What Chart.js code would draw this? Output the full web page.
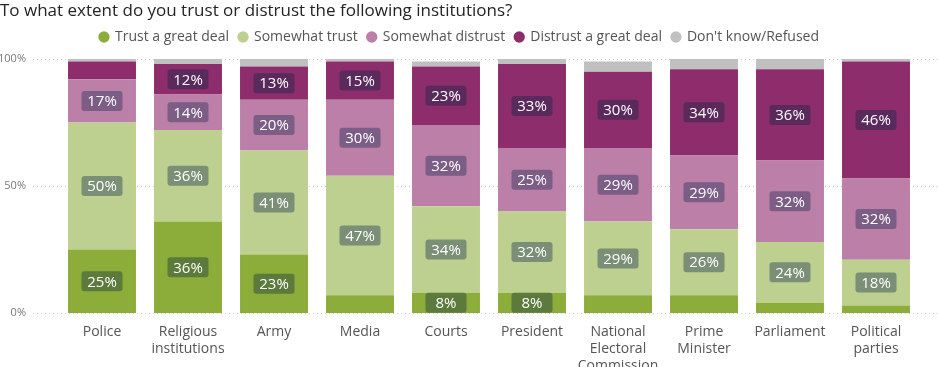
<!DOCTYPE html>
<html>
<head>
<meta charset="utf-8">
<script src="https://cdn.jsdelivr.net/npm/chart.js@4.4.0/dist/chart.umd.min.js"></script>
<style>
    html, body { margin: 0; padding: 0; background: #fff; }
    #wrap { width: 938px; height: 367px; position: relative; }
</style>
</head>
<body>
<div id="wrap"><canvas id="trust-chart"></canvas></div>
<script>
// start: Data
const institutions = [
    'Police',
    ['Religious', 'institutions'],
    'Army',
    'Media',
    'Courts',
    'President',
    ['National', 'Electoral', 'Commission'],
    ['Prime', 'Minister'],
    'Parliament',
    ['Political', 'parties'],
]
const trustGreatDeal    = [25, 36, 23,  7,  8,  8,  7,  7,  4,  3]
const somewhatTrust     = [50, 36, 41, 47, 34, 32, 29, 26, 24, 18]
const somewhatDistrust  = [17, 14, 20, 30, 32, 25, 29, 29, 32, 32]
const distrustGreatDeal = [ 7, 12, 13, 15, 23, 33, 30, 34, 36, 46]
const dontKnow          = [ 1,  2,  4,  1,  2,  3,  4,  4,  4,  1]
const yTicks = [0, 50, 100]
// end: Data

const font = "'Open Sans', 'Noto Sans', sans-serif"

// a bit of room between the legend and the plot
const legendGap = {
    id: 'legendGap',
    beforeLayout(chart) {
        const lg = chart.legend
        if (lg && !lg._gapAdded) {
            const fit = lg.fit
            lg.fit = function() {
                fit.call(this)
                this.height += 5
            }
            lg._gapAdded = true
        }
    }
}

// dotted grid lines running under the bars, wider than the plot area
const dottedGrid = {
    id: 'dottedGrid',
    beforeDatasetsDraw(chart) {
        const ctx = chart.ctx
        const y = chart.scales.y
        ctx.save()
        ctx.strokeStyle = '#c8c8c8'
        ctx.lineWidth = 1
        ctx.setLineDash([1, 3])
        yTicks.forEach(function(t) {
            const py = Math.round(y.getPixelForValue(t)) + 0.5
            ctx.beginPath()
            ctx.moveTo(33, py)
            ctx.lineTo(chart.width, py)
            ctx.stroke()
        })
        ctx.restore()
    }
}

// rounded value boxes in the middle of each segment
const valueBoxes = {
    id: 'valueBoxes',
    afterDatasetsDraw(chart) {
        const ctx = chart.ctx
        ctx.save()
        ctx.font = '15px ' + font
        ctx.textAlign = 'center'
        ctx.textBaseline = 'middle'
        chart.data.datasets.forEach(function(ds, i) {
            if (!ds.boxColor) return
            chart.getDatasetMeta(i).data.forEach(function(bar, j) {
                const v = ds.data[j]
                if (v < 8) return
                const cy = (bar.y + bar.base) / 2
                const w = 41, h = 20
                ctx.fillStyle = ds.boxColor
                ctx.beginPath()
                ctx.roundRect(bar.x - w / 2, cy - h / 2, w, h, 3)
                ctx.fill()
                ctx.fillStyle = '#ffffff'
                ctx.fillText(v + '%', bar.x, cy + 1)
            })
        })
        ctx.restore()
    }
}

const trustChart = new Chart(document.getElementById('trust-chart'), {
    type: 'bar',
    data: {
        labels: institutions,
        datasets: [{
            label: 'Trust a great deal',
            data: trustGreatDeal,
            backgroundColor: '#8dad3b',
            boxColor: '#5b7a3b',
        }, {
            label: 'Somewhat trust',
            data: somewhatTrust,
            backgroundColor: '#bdd08f',
            boxColor: '#7a8f75',
        }, {
            label: 'Somewhat distrust',
            data: somewhatDistrust,
            backgroundColor: '#bc7fa8',
            boxColor: '#7b5d86',
        }, {
            label: 'Distrust a great deal',
            data: distrustGreatDeal,
            backgroundColor: '#8e2d6c',
            boxColor: '#5a2a5d',
        }, {
            label: "Don't know/Refused",
            data: dontKnow,
            backgroundColor: '#c0c0c0',
        }]
    },
    options: {
        responsive: true,
        maintainAspectRatio: false,
        animation: false,
        datasets: {
            bar: {
                categoryPercentage: 1,
                barPercentage: 0.79,
            }
        },
        layout: {
            padding: { left: 0, right: 19, top: 0, bottom: 0 }
        },
        plugins: {
            title: {
                display: true,
                text: 'To what extent do you trust or distrust the following institutions?',
                align: 'start',
                color: '#252423',
                font: { family: font, size: 17, weight: 'normal', lineHeight: 1 },
                padding: { top: 3, bottom: 0 },
            },
            legend: {
                display: true,
                position: 'top',
                labels: {
                    usePointStyle: true,
                    pointStyle: 'circle',
                    boxWidth: 8,
                    boxHeight: 8,
                    padding: 10,
                    color: '#555555',
                    font: { family: font, size: 14 },
                }
            },
            tooltip: { enabled: false }
        },
        scales: {
            x: {
                stacked: true,
                grid: { display: false },
                border: { display: false },
                ticks: {
                    color: '#555555',
                    font: { family: font, size: 14, lineHeight: 1.2 },
                    maxRotation: 0,
                    autoSkip: false,
                    padding: 3,
                },
                afterFit(scale) { scale.height = 54 }
            },
            y: {
                stacked: true,
                min: 0,
                max: 100,
                grid: { display: false, drawTicks: false },
                border: { display: false },
                ticks: {
                    stepSize: 50,
                    color: '#777777',
                    font: { family: font, size: 11 },
                    padding: 33,
                    callback: function(v) { return v + '%' }
                },
                afterFit(scale) { scale.width = 59 }
            }
        }
    },
    plugins: [legendGap, dottedGrid, valueBoxes]
})
</script>
</body>
</html>
